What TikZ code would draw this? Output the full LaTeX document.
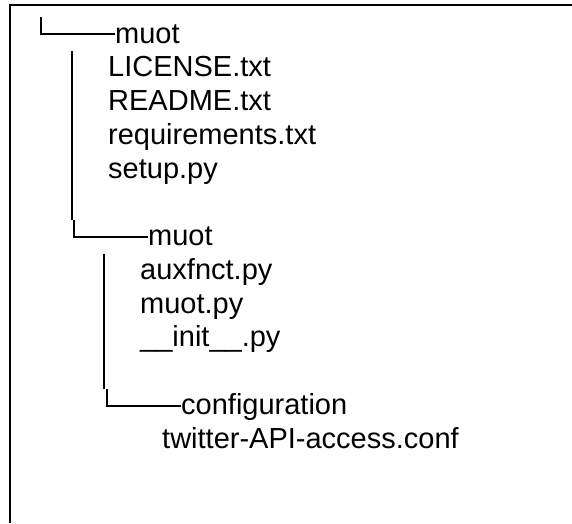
\documentclass[tikz,border=0pt]{standalone}
\usepackage{fontspec}
\setmainfont{Liberation Sans}
\usetikzlibrary{calc}
\begin{document}
\begin{tikzpicture}[x=1pt,y=-1pt,
  entry/.style={anchor=base west,inner sep=0pt,font=\fontsize{29}{34}\selectfont},
  branch/.style={line width=2pt,line cap=butt,line join=miter},
  frame/.style={line width=2pt}]
\useasboundingbox (0,0) rectangle (572,523);
% outer frame: top and left edges only
\coordinate (ftl) at (10,5);
\coordinate (ftr) at (572,5);
\coordinate (fbl) at (10,523);
\draw[frame] (ftr) -- (ftl) -- (fbl);

% top-level folder (line pitch 33.75)
\node[entry] (m1) at (115,43) {muot};
\node[entry] (f1) at (108,76.75) {LICENSE.txt};
\node[entry] (f2) at (108,110.5) {README.txt};
\node[entry] (f3) at (108,144.25) {requirements.txt};
\node[entry] (f4) at (108,178) {setup.py};

% package folder
\node[entry] (m2) at (148,245.5) {muot};
\node[entry] (g1) at (140,279.25) {auxfnct.py};
\node[entry] (g2) at (140,313) {muot.py};
\node[entry] (g3) at (140,346.75) {\_\_init\_\_.py};

% configuration folder
\node[entry] (m3) at (181,414.25) {configuration};
\node[entry] (h1) at (162,448) {twitter-API-access.conf};

% tree branches
\coordinate (b0) at (41,17);
\draw[branch] (b0) |- ($(m1.base west)+(0,-9)$);

\coordinate (b1) at (72,51);
\coordinate (b1j) at (74,220);
\draw[branch] (b1) -- (b1 |- b1j);
\draw[branch] (b1j) |- ($(m2.base west)+(0,-8.5)$);

\coordinate (b2) at (104,254);
\coordinate (b2j) at (107,389);
\draw[branch] (b2) -- (b2 |- b2j);
\draw[branch] (b2j) |- ($(m3.base west)+(0,-8.5)$);
\end{tikzpicture}
\end{document}
